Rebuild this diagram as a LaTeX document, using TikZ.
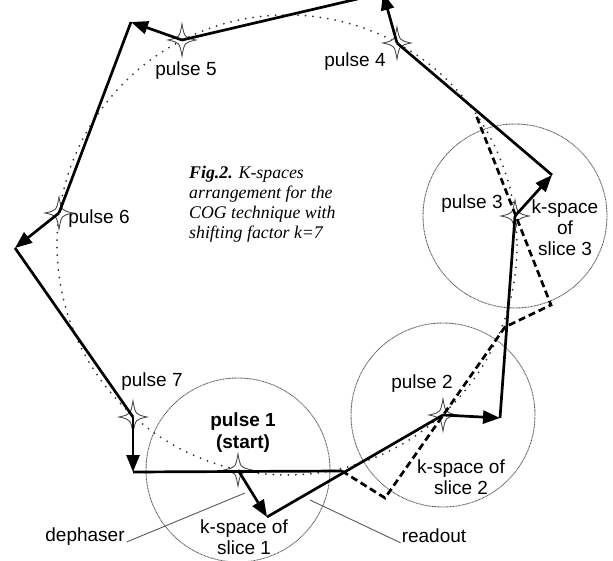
\documentclass[tikz,border=0pt]{standalone}
\usepackage{fontspec}
\setmainfont{Liberation Sans}
\newfontfamily\capfont{Liberation Serif}
\usetikzlibrary{arrows.meta}
\begin{document}
\begin{tikzpicture}[x=1pt,y=-1pt,
  trace/.style={line width=2.7pt, black},
  arr/.style={trace, -{Triangle[length=17pt,width=13pt]}},
  dashtrace/.style={line width=2.7pt, dash pattern=on 7pt off 4pt, line join=miter},
  kcircle/.style={black!65, line width=0.9pt, dash pattern=on 0.9pt off 0.6pt},
  bigcircle/.style={black!80, line width=2pt, dash pattern=on 0pt off 7.5pt, line cap=round},
  leader/.style={gray!70!black, line width=0.9pt},
  lbl/.style={font=\fontsize{19}{21}\selectfont, inner sep=0pt, align=center},
  capnode/.style={font=\capfont\itshape\fontsize{17.8}{20}\selectfont, inner sep=0pt, align=left},
  sparkle/.pic={\draw[gray!60!black, line width=0.9pt, fill=white]
     (0,-16) .. controls (2.5,-2.5) .. (14,0) .. controls (2.5,2.5) .. (0,16)
     .. controls (-2.5,2.5) .. (-14,0) .. controls (-2.5,-2.5) .. (0,-16) -- cycle;}
]
\useasboundingbox (0,0) rectangle (613,561);

% key points
\coordinate (O) at (287,245);
\coordinate (p1) at (238,470); \coordinate (c1) at (267,517);
\coordinate (p2) at (443,415); \coordinate (c2) at (500,418);
\coordinate (p3) at (515,216); \coordinate (c3) at (552,175);
\coordinate (p4) at (397,43);  \coordinate (c4) at (383,-7);
\coordinate (p5) at (182,40);  \coordinate (c5) at (131,22);
\coordinate (p6) at (59,213);  \coordinate (c6) at (15,248);
\coordinate (p7) at (133,417); \coordinate (c7) at (133,472);
\coordinate (e) at (342,471);
\coordinate (d1) at (385,498); \coordinate (d2) at (505,327);
\coordinate (d3) at (551,305); \coordinate (d4) at (476,115);

% circles
\draw[bigcircle] (O) circle[radius=230];
\draw[kcircle] (p1) circle[radius=92];
\draw[kcircle] (p2) circle[radius=92];
\draw[kcircle] (p3) circle[radius=92];

% labels
\node[lbl] (l5) at (186,71) {pulse 5};
\node[lbl] (l4) at (355,62) {pulse 4};
\node[lbl] (l6) at (99,219) {pulse 6};
\node[lbl] (l3) at (472,204) {pulse 3};
\node[lbl] (ks3) at (565,228) {k-space\\of\\slice 3};
\node[lbl] (l7) at (152,382) {pulse 7};
\node[lbl, font=\bfseries\fontsize{19}{22}\selectfont] (l1) at (243,433) {pulse 1\\(start)};
\node[lbl] (ks1) at (244,537) {k-space of\\slice 1};
\node[lbl] (ldeph) at (85,537) {dephaser};
\node[lbl] (l2) at (422,384) {pulse 2};
\node[lbl] (ks2) at (461,477) {k-space of\\slice 2};
\node[lbl] (lread) at (434,536) {readout};
\node[capnode, anchor=west] (cap) at (189,204)
  {\textbf{Fig.2.} K-spaces\\arrangement for the\\COG technique with\\shifting factor k=7};

% leader lines
\coordinate (dl) at (245,493);
\coordinate (rl) at (310,500);
\draw[leader] ([xshift=2pt]ldeph.base east) -- (dl);
\draw[leader] (rl) -- ([xshift=-1pt]lread.base west);

% pulses
\foreach \p in {p1,p2,p3,p4,p5,p6,p7} \pic at (\p) {sparkle};

% readouts
\draw[trace] (c1) -- (p2);
\draw[trace] (c2) -- (p3);
\draw[trace] (c3) -- (p4);
\draw[trace] (c4) -- (p5);
\draw[trace] (c5) -- (p6);
\draw[trace] (c6) -- (p7);
\draw[trace] (c7) -- (e);

% dephasers
\draw[arr] (p1) -- (c1);
\draw[arr] (p2) -- (c2);
\draw[arr] (p3) -- (c3);
\draw[arr] (p4) -- (c4);
\draw[arr] (p5) -- (c5);
\draw[arr] (p6) -- (c6);
\draw[arr] (p7) -- (c7);

% alternative trajectory
\draw[dashtrace] (e) -- (d1) -- (d2) -- (d3) -- (d4);
\end{tikzpicture}
\end{document}
